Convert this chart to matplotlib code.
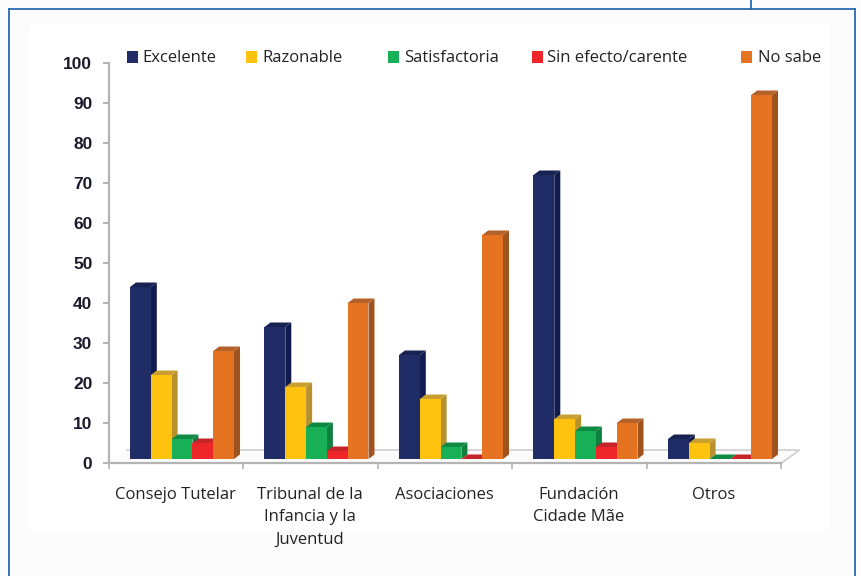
import matplotlib
matplotlib.use("Agg")
import matplotlib.pyplot as plt
from matplotlib.patches import Polygon, Rectangle
from matplotlib.lines import Line2D

categories = ["Consejo Tutelar", "Tribunal de la\nInfancia y la\nJuventud", "Asociaciones",
              "Fundación\nCidade Mãe", "Otros"]
series_names = ["Excelente", "Razonable", "Satisfactoria", "Sin efecto/carente", "No sabe"]
excelente = [44, 34, 27, 72, 6]
razonable = [22, 19, 16, 11, 5]
satisfactoria = [6, 9, 4, 8, 1]
sin_efecto = [5, 3, 1, 4, 1]
no_sabe = [28, 40, 57, 10, 92]
y_ticks = list(range(0, 101, 10))

W, H = 862, 576
front = ["#1F2C66", "#FFC20E", "#17B057", "#EE2529", "#E57322"]
side = ["#111B4D", "#B8902C", "#0E8040", "#B02025", "#A0521F"]
top = ["#172253", "#C9A030", "#0F8A45", "#C4242A", "#B5622A"]
legend_marker_x = [127, 246, 388, 532, 741]
legend_text_x = [142, 262, 404, 547, 758]

plt.rcParams["font.family"] = ["Open Sans", "DejaVu Sans"]
fig = plt.figure(figsize=(W / 100, H / 100), dpi=100, facecolor="#FCFCFC")

def fx(p): return p / W
def fy(p): return 1 - p / H

# page panel and border
fig.add_artist(Rectangle((fx(30), fy(530)), fx(800), 505 / H, transform=fig.transFigure,
                         fc="white", ec="none", zorder=-5))
for xs, ys in [([9, 9], [576, 9]), ([9, 855], [9, 9]), ([855, 855], [9, 576]), ([751, 751], [0, 9])]:
    fig.add_artist(Line2D([fx(a) for a in xs], [fy(b) for b in ys], color="#2A68B0", lw=1.3))

L, R, T, B = 109, 781.5, 63, 463
ax = fig.add_axes([fx(L), fy(B), (R - L) / W, (B - T) / H])
ax.set_xlim(0, 5)
ax.set_ylim(0, 100)
ax.patch.set_alpha(0)
px_x = 5 / (R - L)
px_y = 100 / (B - T)

# floor
floor_dx, floor_dy = 18 * px_x, 13 * px_y
ax.add_patch(Polygon([(0, 0), (floor_dx, floor_dy), (5 + floor_dx, floor_dy), (5, 0)],
                     closed=True, fc="#FBFBFB", ec="none", clip_on=False, zorder=1))
ax.plot([floor_dx, 5 + floor_dx, 5], [floor_dy, floor_dy, 0], color="#CFCFCF", lw=1.2,
        clip_on=False, zorder=1.2)

bar_w = 20.8 * px_x
group_start = 21 * px_x
dx, dy = 6 * px_x, 4.5 * px_y
base = 1.0
all_vals = [excelente, razonable, satisfactoria, sin_efecto, no_sabe]
z = 2
for s, vals in enumerate(all_vals):
    for c, v in enumerate(vals):
        x0 = c + group_start + s * bar_w
        x1 = x0 + bar_w
        ax.add_patch(Polygon([(x1, base), (x1 + dx, base + dy), (x1 + dx, v + dy), (x1, v)],
                             closed=True, fc=side[s], ec="none", clip_on=False, zorder=z))
        ax.add_patch(Polygon([(x0, v), (x0 + dx, v + dy), (x1 + dx, v + dy), (x1, v)],
                             closed=True, fc=top[s], ec="none", clip_on=False, zorder=z))
        ax.bar(x0, v - base, bottom=base, width=bar_w, align="edge", color=front[s], lw=0, zorder=z + 0.5)
    z += 1

for sp in ["top", "right"]:
    ax.spines[sp].set_visible(False)
for sp in ["left", "bottom"]:
    ax.spines[sp].set_color("#B4B4B4")
    ax.spines[sp].set_linewidth(1.6)
    ax.spines[sp].set_zorder(1.5)
ax.set_yticks(y_ticks)
ax.set_yticklabels([str(t) for t in y_ticks], fontfamily="Liberation Sans", fontweight="bold",
                   fontsize=12.5, color="#1A1A2A")
ax.tick_params(axis="y", length=4, width=1.4, color="#B4B4B4", pad=8)
ax.set_xticks(range(6))
ax.set_xticklabels([""] * 6)
ax.tick_params(axis="x", length=4, width=1.2, color="#B4B4B4")

for c, name in enumerate(categories):
    fig.text(fx(L + (c + 0.5) * 134.5 - 1), fy(487), name, ha="center", va="top",
             fontsize=12, color="#222222", linespacing=1.52)

for s, name in enumerate(series_names):
    fig.add_artist(Rectangle((fx(legend_marker_x[s]), fy(63)), 11 / W, 12 / H,
                             transform=fig.transFigure, fc=front[s], ec="none"))
    fig.text(fx(legend_text_x[s]), fy(58), name, ha="left", va="center", fontsize=12, color="#222222")

fig.savefig("out.png", dpi=100, facecolor=fig.get_facecolor())
